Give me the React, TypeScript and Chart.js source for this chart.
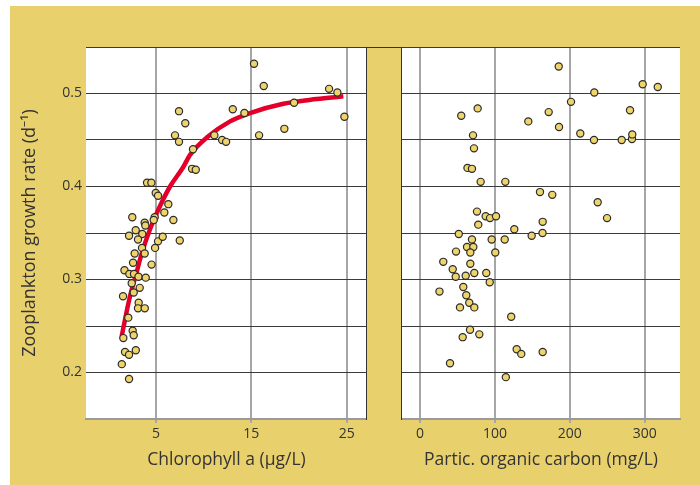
import React, { useEffect, useRef } from "react";
import { Chart, registerables } from "chart.js";

Chart.register(...registerables);

// ---- data ----
const chlX = [15.28, 16.3, 23.15, 24.02, 24.76, 19.48, 18.46, 15.81, 14.27, 13.05, 11.12, 11.93, 12.35, 7.41, 8.07, 6.99, 7.41, 8.88, 8.78, 9.17, 4.06, 4.51, 4.97, 5.21, 6.29, 5.87, 6.82, 4.86, 4.76, 3.81, 3.88, 2.51, 2.87, 2.17, 3.56, 3.11, 5.21, 5.7, 7.49, 4.9, 3.53, 2.76, 3.81, 2.59, 4.53, 1.69, 2.2, 2.69, 3.16, 3.92, 2.45, 3.29, 2.66, 1.54, 3.18, 3.11, 3.82, 2.09, 2.55, 2.66, 1.57, 1.75, 2.17, 2.88, 1.41, 2.17];
const chlY = [0.532, 0.508, 0.505, 0.501, 0.475, 0.49, 0.462, 0.455, 0.479, 0.483, 0.455, 0.45, 0.448, 0.481, 0.468, 0.455, 0.448, 0.44, 0.419, 0.418, 0.404, 0.404, 0.393, 0.39, 0.381, 0.372, 0.364, 0.367, 0.364, 0.361, 0.358, 0.367, 0.353, 0.347, 0.349, 0.343, 0.341, 0.346, 0.342, 0.334, 0.334, 0.328, 0.328, 0.318, 0.316, 0.31, 0.306, 0.306, 0.303, 0.302, 0.296, 0.291, 0.286, 0.282, 0.275, 0.269, 0.269, 0.259, 0.245, 0.24, 0.237, 0.222, 0.219, 0.224, 0.209, 0.193];

const pocX = [185.2, 297.3, 317.4, 232.7, 201.6, 280.4, 171.8, 144.6, 185.6, 214.0, 232.3, 269.3, 283.0, 283.4, 77.0, 55.1, 70.8, 72.1, 63.4, 69.4, 81.0, 113.9, 160.2, 176.6, 237.2, 249.7, 163.8, 163.6, 149.1, 125.9, 113.1, 95.7, 100.5, 76.1, 87.7, 93.5, 101.5, 77.8, 51.8, 69.4, 62.8, 71.2, 67.2, 48.1, 31.1, 67.2, 43.7, 47.7, 61.0, 72.5, 88.5, 93.1, 57.8, 26.0, 61.8, 65.8, 53.4, 72.5, 121.8, 66.8, 57.0, 79.2, 129.1, 135.2, 163.8, 40.1, 114.6];
const pocY = [0.529, 0.51, 0.507, 0.501, 0.491, 0.482, 0.48, 0.47, 0.464, 0.457, 0.45, 0.45, 0.451, 0.456, 0.484, 0.476, 0.455, 0.441, 0.42, 0.419, 0.405, 0.405, 0.394, 0.391, 0.383, 0.366, 0.362, 0.35, 0.347, 0.354, 0.343, 0.343, 0.329, 0.373, 0.368, 0.366, 0.368, 0.359, 0.349, 0.343, 0.335, 0.335, 0.329, 0.33, 0.319, 0.317, 0.311, 0.303, 0.304, 0.307, 0.307, 0.297, 0.292, 0.287, 0.283, 0.275, 0.27, 0.27, 0.26, 0.246, 0.238, 0.241, 0.225, 0.22, 0.222, 0.21, 0.195];

const fitX = [1.4, 1.75, 2.27, 2.97, 3.5, 4.37, 5.42, 6.47, 7.86, 8.57, 10.49, 12.77, 14.86, 18.36, 21.86, 24.65];
const fitY = [0.239, 0.257, 0.282, 0.308, 0.328, 0.354, 0.379, 0.4, 0.421, 0.434, 0.454, 0.47, 0.479, 0.489, 0.494, 0.497];

const chlTicks = [5, 15, 25];
const pocTicks = [0, 100, 200, 300];
const yGrid = [0.15, 0.2, 0.25, 0.3, 0.35, 0.4, 0.45, 0.5, 0.55];
const yLabels = ["0.2", "0.3", "0.4", "0.5"];

const chlTitle = "Chlorophyll a (µg/L)";
const pocTitle = "Partic. organic carbon (mg/L)";
const yTitle = "Zooplankton growth rate (d⁻¹)";

// ---- styles ----
const YELLOW = "#e8d16d";
const DOT = "#efd46c";
const FONT = "'Open Sans', 'Noto Sans', sans-serif";
const TXT = "#333333";

function pts(xs: number[], ys: number[]) {
  return xs.map((x, i) => ({ x, y: ys[i] }));
}

function yScale(showLabels: boolean) {
  return {
    type: "linear" as const,
    min: 0.15,
    max: 0.55,
    afterBuildTicks: (s: any) => {
      s.ticks = yGrid.map((v) => ({ value: v }));
    },
    afterFit: (s: any) => {
      s.width = showLabels ? 86 : 0;
    },
    border: { display: false },
    grid: {
      drawTicks: false,
      lineWidth: 1,
      color: (c: any) => (c.tick && Math.abs(c.tick.value - 0.15) < 1e-6 ? "rgba(0,0,0,0)" : "#3a3a3a"),
    },
    ticks: {
      display: showLabels,
      padding: 4,
      color: TXT,
      font: { family: FONT, size: 14 },
      callback: (v: any) => {
        const s = Number(v).toFixed(2);
        const l = Number(v).toFixed(1);
        return yLabels.includes(l) && s.endsWith("0") ? l : "";
      },
    },
    title: {
      display: showLabels,
      text: yTitle,
      color: TXT,
      font: { family: FONT, size: 18 },
      padding: { top: 19, bottom: 0 },
    },
  };
}

function xScale(min: number, max: number, ticks: number[], title: string) {
  return {
    type: "linear" as const,
    min,
    max,
    afterBuildTicks: (s: any) => {
      s.ticks = ticks.map((v) => ({ value: v }));
    },
    afterFit: (s: any) => {
      s.height = 66;
    },
    border: { display: true, color: "#9a9a9a", width: 2 },
    grid: {
      color: "#a6a6a6",
      lineWidth: 2,
      tickLength: 4,
      tickColor: "#a6a6a6",
    },
    ticks: {
      padding: 3,
      color: TXT,
      font: { family: FONT, size: 14 },
      callback: (v: any) => String(v),
    },
    title: {
      display: true,
      text: title,
      color: TXT,
      font: { family: FONT, size: 17.5 },
      padding: { top: 0, bottom: 14 },
    },
  };
}

function makeChart(canvas: HTMLCanvasElement, left: boolean) {
  const datasets: any[] = [];
  if (left) {
    datasets.push({
      data: pts(fitX, fitY),
      showLine: true,
      borderColor: "#e2002a",
      borderWidth: 4.5,
      pointRadius: 0,
      tension: 0.4,
      cubicInterpolationMode: "monotone",
      order: 2,
    });
  }
  datasets.push({
    data: left ? pts(chlX, chlY) : pts(pocX, pocY),
    showLine: false,
    pointRadius: 3.6,
    pointBorderWidth: 1.2,
    pointBackgroundColor: DOT,
    pointBorderColor: "#2b2b2b",
    order: 1,
  });
  return new Chart(canvas, {
    type: "scatter",
    data: { datasets },
    options: {
      responsive: false,
      animation: false,
      devicePixelRatio: 1,
      layout: {
        autoPadding: false,
        padding: left ? { top: 47, left: 0, right: 0, bottom: 0 } : { top: 47, left: 0, right: 20, bottom: 0 },
      },
      plugins: { legend: { display: false }, tooltip: { enabled: false } },
      scales: {
        x: left ? xScale(-2.345, 27.13, chlTicks, chlTitle) : xScale(-24.0, 347.1, pocTicks, pocTitle),
        y: yScale(left),
      },
    },
    plugins: [
      {
        id: "whiteArea",
        beforeDraw: (chart: any) => {
          const { ctx, chartArea: a } = chart;
          ctx.save();
          ctx.fillStyle = "#ffffff";
          ctx.fillRect(a.left, a.top, a.right - a.left, a.bottom - a.top);
          ctx.restore();
        },
      },
    ],
  });
}

export default function App() {
  const leftRef = useRef<HTMLCanvasElement | null>(null);
  const rightRef = useRef<HTMLCanvasElement | null>(null);

  useEffect(() => {
    document.body.style.margin = "0";
    const c1 = makeChart(leftRef.current!, true);
    const c2 = makeChart(rightRef.current!, false);
    return () => {
      c1.destroy();
      c2.destroy();
    };
  }, []);

  return (
    <div style={{ position: "relative", width: 700, height: 485, background: "#ffffff", overflow: "hidden" }}>
      <div style={{ position: "absolute", left: 10, top: 6, width: 690, height: 479, background: YELLOW }} />
      <canvas ref={leftRef} width={367} height={485} style={{ position: "absolute", left: 0, top: 0, width: 367, height: 485 }} />
      <canvas ref={rightRef} width={298} height={485} style={{ position: "absolute", left: 402, top: 0, width: 298, height: 485 }} />
      <div
        style={{
          position: "absolute",
          left: 366,
          top: 46.5,
          width: 36,
          height: 373,
          boxSizing: "border-box",
          background: YELLOW,
          borderLeft: "1px solid #333",
          borderRight: "1px solid #333",
          borderTop: "1px solid #333",
        }}
      />
    </div>
  );
}
